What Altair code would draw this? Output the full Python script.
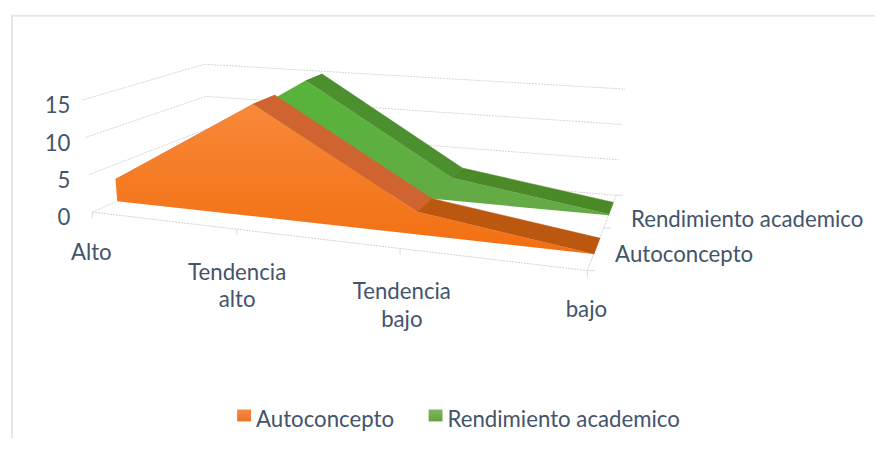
import altair as alt
import numpy as np
import pandas as pd

# ---------- values ----------
categories = ["Alto", "Tendencia alto", "Tendencia bajo", "bajo"]
autoconcepto = [3, 15.2, 3, 0]
rendimiento = [3, 15.4, 3.2, 0.2]
value_ticks = [0, 5, 10, 15]
series_names = ["Autoconcepto", "Rendimiento academico"]

# ---------- 3D view: floor and 15-level corners (FL, FR, BR, BL) in page pixels ----------
FLOOR = [(90, 212), (589, 271), (618, 195), (208, 160)]
TOP = [(80, 99), (598, 152), (627, 88), (203, 63)]
Z_ORANGE = (0.18, 0.37)
Z_GREEN = (0.68, 0.86)
U = [0, 0.381, 0.687, 1]        # where the areas' vertices sit along the category axis
U_TICK = [0, 0.343, 0.675, 1]   # where the axis ticks sit


def homography(corners):
    src = [(0, 0), (1, 0), (1, 1), (0, 1)]
    A, b = [], []
    for (u, z), (x, y) in zip(src, corners):
        A.append([u, z, 1, 0, 0, 0, -u * x, -z * x])
        A.append([0, 0, 0, u, z, 1, -u * y, -z * y])
        b += [x, y]
    return np.append(np.linalg.solve(np.array(A, float), np.array(b, float)), 1).reshape(3, 3)


H0, H1 = homography(FLOOR), homography(TOP)


def project(u, z, v):
    def ap(H):
        p = H @ np.array([u, z, 1.0])
        return p[:2] / p[2]
    t = v / 15
    return tuple((1 - t) * ap(H0) + t * ap(H1))


def pdata(points):
    return pd.DataFrame({"px": [p[0] for p in points], "py": [p[1] for p in points], "o": range(len(points))})


W, H = 871, 432
X = alt.X("px:Q", scale=alt.Scale(domain=[8, 8 + W], nice=False, zero=False), axis=None)
Y = alt.Y("py:Q", scale=alt.Scale(domain=[8 + H, 8], nice=False, zero=False), axis=None)


def grad(c1, c2):
    return alt.Gradient(gradient="linear", x1=0, x2=0, y1=0, y2=1,
                        stops=[alt.GradientStop(color=c1, offset=0), alt.GradientStop(color=c2, offset=1)])


def poly(points, fill, stroke=None):
    return alt.Chart(pdata(points)).mark_line(
        interpolate="linear-closed", fill=fill, stroke=stroke or "transparent", strokeWidth=0.5, clip=False
    ).encode(x=X, y=Y, order="o:Q")


def line(points, color="#DDDDDD", width=1.0, dash=None):
    kw = {"strokeDash": dash} if dash else {}
    return alt.Chart(pdata(points)).mark_line(color=color, strokeWidth=width, **kw).encode(x=X, y=Y, order="o:Q")


def label(x, y, text, align="center", size=22.4, color="#44546A"):
    return alt.Chart(pd.DataFrame({"px": [x], "py": [y], "t": [text]})).mark_text(
        font="Lato", fontSize=size, color=color, align=align, baseline="middle"
    ).encode(x=X, y=Y, text="t:N")


def series(values, zr, front, tops, cap):
    z0, z1 = zr
    out = []
    for i in range(len(values) - 1):
        out.append(poly([project(U[i], z0, values[i]), project(U[i + 1], z0, values[i + 1]),
                         project(U[i + 1], z1, values[i + 1]), project(U[i], z1, values[i])], tops[i], tops[i]))
    out.append(poly([project(1, z0, 0), project(1, z0, values[-1]), project(1, z1, values[-1]), project(1, z1, 0)], cap, cap))
    pts = [project(u, z0, v) for u, v in zip(U, values)] + [project(1, z0, 0), project(0, z0, 0)]
    out.append(poly(pts, front))
    return out


layers = []
# frame
layers.append(line([(9, 8 + H), (9, 14), (8 + W, 14)], color="#E3E7EE", width=2))
# grid
for v in value_ticks:
    layers.append(line([project(0, 0, v), project(0, 1, v), project(1, 1, v)], color="#D4D4D4", dash=[2, 1]))
layers.append(line([project(0, 0, 0), project(1, 0, 0), project(1, 1, 0)], color="#D0D0D0", dash=[2, 1]))
# ticks
for u in U_TICK:
    x, y = project(u, 0, 0)
    layers.append(line([(x, y), (x, y + 6)], color="#D6DCE5"))
for z in (0, 0.5, 1):
    x, y = project(1, z, 0)
    layers.append(line([(x, y), (x + 7, y)], color="#D6DCE5"))
# series, back to front
layers += series(rendimiento, Z_GREEN, grad("#55B539", "#66A947"),
                 ["#4C8F2E", "#4C8F2E", "#4C8A28"], "#4C8A28")
layers += series(autoconcepto, Z_ORANGE, grad("#F8883A", "#F26F10"),
                 ["#CC6330", "#CF6430", "#BC5710"], "#BC5710")
# value axis labels
for v, y in zip(value_ticks, [218, 181, 143, 105]):
    layers.append(label(68, y, str(v), align="right"))
# category labels
layers.append(label(89, 253, "Alto"))
layers.append(label(236, 273, "Tendencia"))
layers.append(label(236, 301, "alto"))
layers.append(label(402, 293, "Tendencia"))
layers.append(label(402, 321, "bajo"))
layers.append(label(588, 311, "bajo"))
# depth labels
layers.append(label(633, 220, "Rendimiento academico", align="left"))
layers.append(label(617, 255, "Autoconcepto", align="left"))
# legend
layers.append(poly([(236, 411), (250, 411), (250, 423), (236, 423)], grad("#F58A42", "#EB7428")))
layers.append(poly([(429, 411), (443, 411), (443, 423), (429, 423)], grad("#7CB85A", "#66A33E")))
layers.append(label(255, 422, series_names[0], align="left"))
layers.append(label(448, 422, series_names[1], align="left"))

chart = alt.layer(*layers).properties(width=W, height=H, padding=0, background="white").configure_view(stroke=None)
chart.save("out.html", embed_options={"renderer": "svg", "actions": False})
